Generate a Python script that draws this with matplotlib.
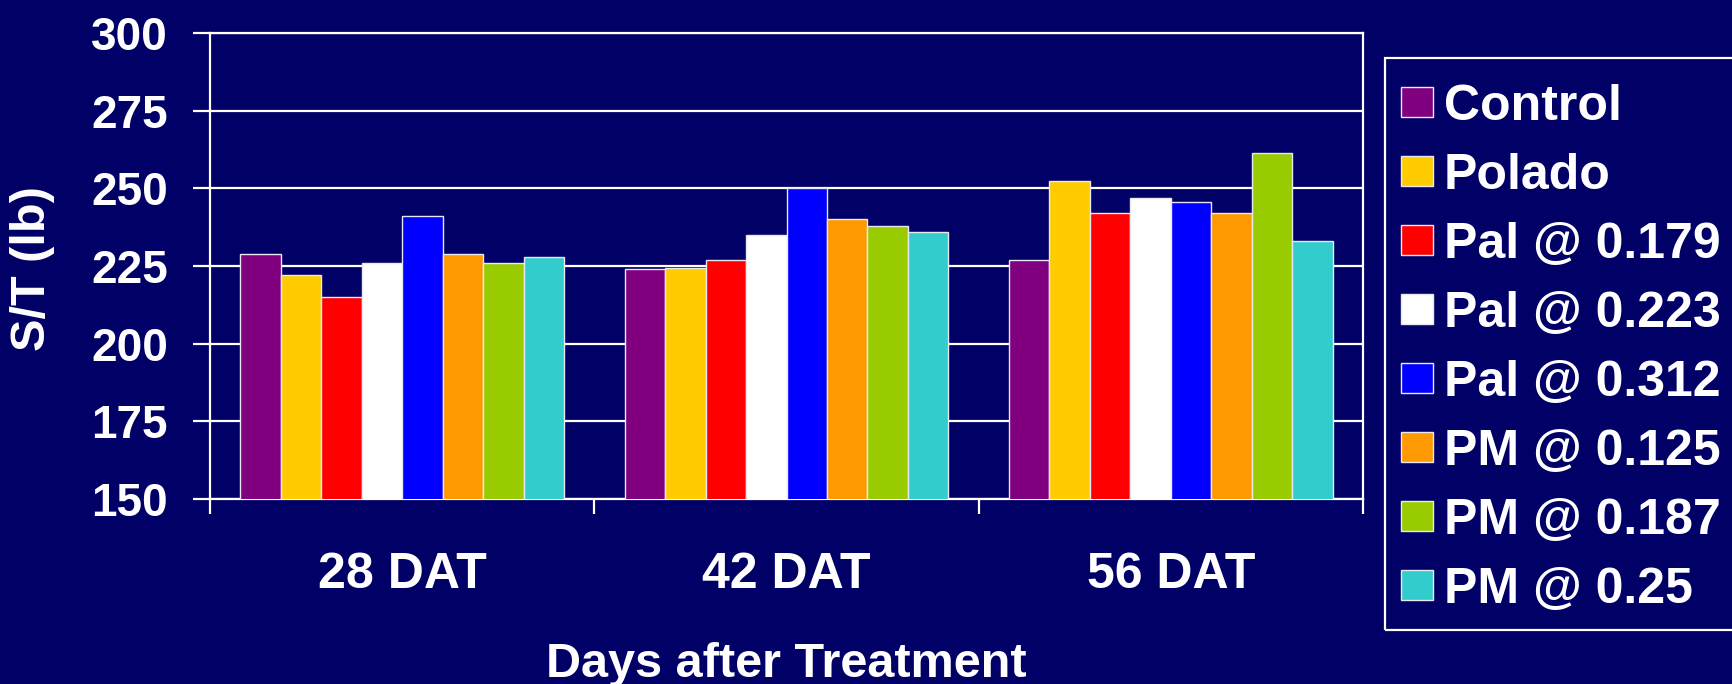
import matplotlib.pyplot as plt
from matplotlib.patches import Rectangle
import numpy as np

# Values (S/T in lb)
periods = ["28 DAT", "42 DAT", "56 DAT"]
treatments = ["Control", "Polado", "Pal @ 0.179", "Pal @ 0.223", "Pal @ 0.312",
              "PM @ 0.125", "PM @ 0.187", "PM @ 0.25"]
control = [229, 224, 227]
polado = [222, 224.5, 252.5]
pal_0179 = [215, 227, 242]
pal_0223 = [226, 235, 247]
pal_0312 = [241, 250, 245.5]
pm_0125 = [229, 240, 242]
pm_0187 = [226, 238, 261.5]
pm_025 = [228, 236, 233]
y_ticks = [150, 175, 200, 225, 250, 275, 300]

series = [control, polado, pal_0179, pal_0223, pal_0312, pm_0125, pm_0187, pm_025]
colors = ['#800080', '#FFCC00', '#FF0000', '#FFFFFF', '#0000FF', '#FF9900', '#99CC00', '#33CCCC']

BG = '#000066'
W, H = 1733, 684
plt.rcParams['font.family'] = ['Liberation Sans', 'DejaVu Sans']
plt.rcParams['font.weight'] = 'bold'

fig = plt.figure(figsize=(W / 100, H / 100), dpi=100, facecolor=BG)
ax = fig.add_axes([210 / W, 1 - 499 / H, (1363 - 210) / W, (499 - 33) / H])
ax.set_facecolor(BG)

# ---------------------------
# Clustered bars
# ---------------------------
x = np.arange(len(periods))
width = 1 / 9.5
for i, (vals, color, name) in enumerate(zip(series, colors, treatments)):
    ax.bar(x + (i - 3.5) * width, vals, width=width, color=color,
           edgecolor='#E8E8F0', linewidth=1.0, label=name, zorder=3)

ax.set_ylim(150, 300)
ax.set_xlim(-0.5, 2.5)
ax.set_yticks(y_ticks)
ax.grid(axis='y', color='white', linewidth=1.6, zorder=1)

for side in ['left', 'right', 'top', 'bottom']:
    ax.spines[side].set_color('white')
    ax.spines[side].set_linewidth(1.6)

ax.tick_params(axis='y', colors='white', labelsize=33, length=17 * 0.72, width=1.6, pad=18)
ax.set_xticks(x)
ax.set_xticklabels(periods)
ax.tick_params(axis='x', which='major', colors='white', labelsize=36, length=0, pad=38)
ax.set_xticks(np.arange(-0.5, 3.0, 1.0), minor=True)
ax.tick_params(axis='x', which='minor', colors='white', length=15 * 0.72, width=1.6)

# Axis titles
fig.text(786.5 / W, 1 - 677 / H, "Days after Treatment", color='white',
         fontsize=35, fontweight='bold', ha='center', va='baseline')
fig.text(33 / W, 1 - 269 / H, "S/T (lb)", color='white', fontsize=35,
         fontweight='bold', rotation=90, ha='center', va='center')

# ---------------------------
# Legend: entries without frame, box drawn separately (runs off the right edge)
# ---------------------------
leg = fig.legend(loc='upper left', bbox_to_anchor=(1401 / W, 1 - 84 / H),
                 frameon=False, fontsize=36, labelcolor='white',
                 handlelength=0.64, handleheight=0.55, handletextpad=0.22,
                 labelspacing=0.46, borderpad=0, borderaxespad=0)
for h in leg.legend_handles:
    h.set_edgecolor('#E8E8F0')

fig.patches.append(Rectangle((1385 / W, 1 - 630 / H), (W + 20 - 1385) / W, (630 - 57.5) / H,
                             transform=fig.transFigure, facecolor='none',
                             edgecolor='white', linewidth=1.6, zorder=0))

fig.savefig('out.png', dpi=100, facecolor=BG)
